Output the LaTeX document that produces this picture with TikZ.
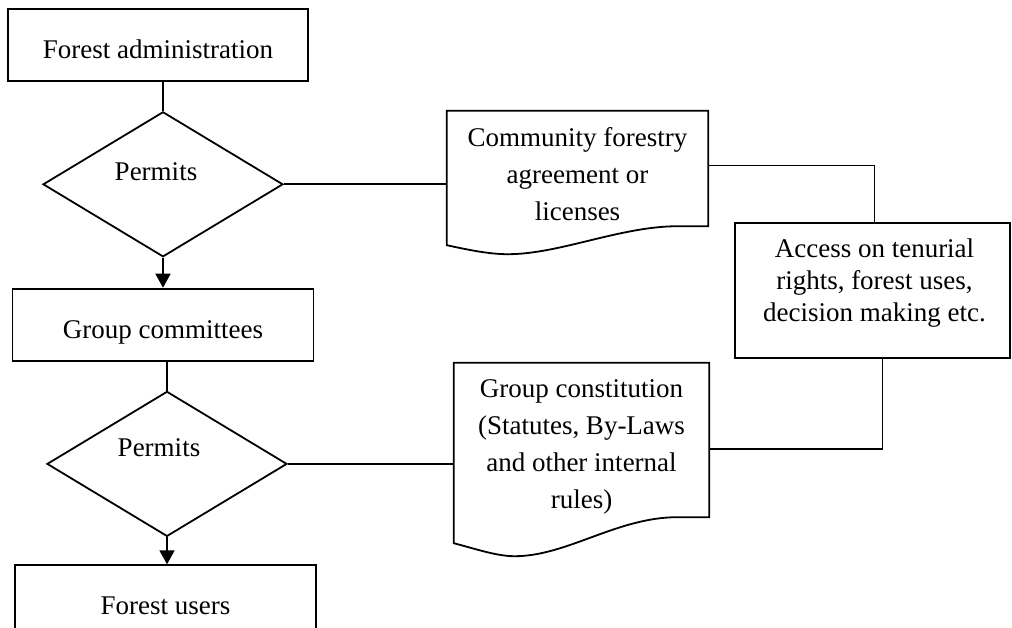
\documentclass[tikz,border=0pt]{standalone}
\usepackage{fontspec}
\setmainfont{Liberation Serif}
\usepackage{tikz}
\usetikzlibrary{arrows.meta,positioning,shapes.geometric}

\begin{document}
\begin{tikzpicture}[
    x=1pt, y=1pt,
    font=\fontsize{27}{37}\selectfont,
    line/.style={line width=1.8pt, black},
    arr/.style={line, -{Triangle[width=15pt,length=14pt]}},
    box/.style={draw, line, minimum height=72pt, inner sep=0pt, text height=27pt, text depth=0pt},
    dia/.style={draw, line, diamond, aspect=1.65, minimum width=240pt, minimum height=145pt, inner sep=0pt},
    doc/.style={inner sep=0pt},
    doctext/.style={align=center},
    note/.style={draw, line, inner sep=0pt},
    notetext/.style={align=center, font=\fontsize{27}{32}\selectfont}
]
    \useasboundingbox (0,0) rectangle (1012,-627);

    % left column
    \node[box, minimum width=300pt] (admin) at (158,-45) {Forest administration};
    \node[dia, below=29pt of admin, xshift=5pt,
          label={[xshift=-7pt, yshift=13pt]center:Permits}] (dia1) {};
    \node[box, minimum width=301pt, below=30pt of dia1] (group) {Group committees};
    \node[dia, below=29pt of group, xshift=4pt,
          label={[xshift=-8pt, yshift=16pt]center:Permits}] (dia2) {};
    \node[box, minimum width=301pt, below=27pt of dia2, xshift=-1.5pt] (users) {Forest users};

    % documents and rights
    \node[doc, minimum width=261pt, minimum height=115pt,
          label={[doctext, yshift=-6pt]center:Community forestry\\agreement or\\licenses}] (doc1) at (577.5,-168.5) {};
    \node[doc, minimum width=255pt, minimum height=154pt,
          label={[doctext, yshift=-7pt]center:Group constitution\\(Statutes, By-Laws\\and other internal\\rules)}] (doc2) at (581.5,-440) {};
    \node[note, minimum width=275pt, minimum height=135pt,
          label={[notetext, yshift=7pt, xshift=2pt]center:Access on tenurial\\rights, forest uses,\\decision making etc.}] (access) at (872.5,-290.5) {};

    \draw[line] (doc1.south east) -- (doc1.north east) -- (doc1.north west) -- ([yshift=-19pt]doc1.south west)
        .. controls ([xshift=23pt,yshift=-24pt]doc1.south west) and ([xshift=43pt,yshift=-28pt]doc1.south west) .. ([xshift=61pt,yshift=-28pt]doc1.south west)
        .. controls ([xshift=113pt,yshift=-28pt]doc1.south west) and ([xshift=-88pt]doc1.south east) .. ([xshift=-30pt]doc1.south east)
        -- cycle;
    \draw[line] (doc2.south east) -- (doc2.north east) -- (doc2.north west) -- ([yshift=-26pt]doc2.south west)
        .. controls ([xshift=23pt,yshift=-32pt]doc2.south west) and ([xshift=43pt,yshift=-39pt]doc2.south west) .. ([xshift=61pt,yshift=-39pt]doc2.south west)
        .. controls ([xshift=113pt,yshift=-39pt]doc2.south west) and ([xshift=-92pt]doc2.south east) .. ([xshift=-32pt]doc2.south east)
        -- cycle;

    \draw[line] (dia1.north |- admin.south) -- (dia1.north);
    \draw[arr] (dia1.south) -- (dia1.south |- group.north);
    \draw[line] (dia2.north |- group.south) -- (dia2.north);
    \draw[arr] (dia2.south) -- (dia2.south |- users.north);
    \draw[line] (dia1.east) -- (dia1.east -| doc1.west);
    \draw[line] (dia2.east) -- (dia2.east -| doc2.west);
    \draw[line] ([yshift=3pt]doc1.east) -| ([xshift=2pt]access.north);
    \draw[line] ([xshift=10pt]access.south) |- ([yshift=-9pt]doc2.east);
\end{tikzpicture}
\end{document}
